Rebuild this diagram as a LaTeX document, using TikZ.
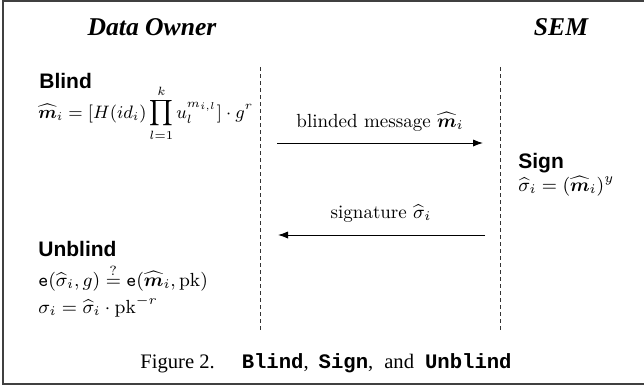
\RequirePackage{fix-cm}
\documentclass[tikz,border=0pt]{standalone}
\usepackage{amsmath,amssymb,bm}
\usepackage[no-math]{fontspec}
\usetikzlibrary{arrows.meta}
\newfontfamily\timesfam{Liberation Serif}
\newfontfamily\arialfam{Liberation Sans}
\newfontfamily\courfam{Liberation Mono}
\newcommand{\mhat}{\widehat{\bm{m}}}
\newcommand{\shat}{\widehat{\sigma}}
\newcommand{\algname}[1]{{\courfam\bfseries #1}}
\tikzset{
  party/.style={inner sep=0pt, anchor=base, font=\fontsize{12.8}{14}\timesfam\bfseries\itshape},
  phase/.style={inner sep=0pt, anchor=base west, font=\fontsize{10.5}{12}\arialfam\bfseries},
  formula/.style={inner sep=0pt, anchor=base west, font=\fontsize{9.5}{11}\selectfont},
  msglabel/.style={inner sep=0pt, anchor=base, font=\fontsize{9.5}{11}\selectfont},
  lifeline/.style={dash pattern=on 2pt off 1.5pt, line width=0.45pt, black!80},
  message/.style={line width=0.5pt, -{Latex[length=5pt,width=3.6pt]}},
  frameline/.style={line width=0.8pt, black!75},
  captionstyle/.style={inner sep=0pt, anchor=base, font=\fontsize{10.3}{12}\timesfam}
}
\begin{document}
\begin{tikzpicture}[x=0.5pt,y=-0.5pt]
  \useasboundingbox (0,0) rectangle (644,387);
  % open frame (top, left and bottom edges)
  \draw[frameline] (644,1) -- (3,1) -- (3,384) -- (644,384);

  % participants
  \node[party] (owner) at (152,35) {Data Owner};
  \node[party] (sem) at (561,35) {SEM};

  % lifelines
  \coordinate (ownerTop) at (260,67);
  \coordinate (ownerBot) at (260,333);
  \coordinate (semTop) at (500,67);
  \coordinate (semBot) at (500,333);
  \draw[lifeline] (ownerTop) -- (ownerBot);
  \draw[lifeline] (semTop) -- (semBot);

  % Blind step
  \node[phase] (blind) at (39,88) {Blind};
  \node[formula, font=\fontsize{9}{11}\selectfont] (blindeq) at (38,118)
    {$\displaystyle \mhat_i = [H(id_i)\prod_{l=1}^{k} u_l^{m_{i,l}}]\cdot g^r$};

  % blinded message
  \coordinate (m1from) at (277,143);
  \coordinate (m1to) at (483,143);
  \draw[message] (m1from) -- (m1to);
  \node[msglabel] (m1label) at (380,127) {blinded message $\mhat_i$};

  % Sign step
  \node[phase] (sign) at (518,168) {Sign};
  \node[formula] (signeq) at (518,191) {$\shat_i = (\mhat_i)^y$};

  % signature
  \coordinate (m2from) at (485,235);
  \coordinate (m2to) at (278,235);
  \draw[message] (m2from) -- (m2to);
  \node[msglabel] (m2label) at (381,218) {signature $\shat_i$};

  % Unblind step
  \node[phase] (unblind) at (38,256) {Unblind};
  \node[formula] (unblindeq1) at (38,286)
    {$\mathtt{e}(\shat_i, g) \overset{?}{=} \mathtt{e}(\mhat_i, \mathrm{pk})$};
  \node[formula] (unblindeq2) at (38,313)
    {$\sigma_i = \shat_i \cdot \mathrm{pk}^{-r}$};

  % caption
  \node[captionstyle] (caption) at (326,368)
    {Figure 2.\hspace{13.5pt}\algname{Blind},\hspace{5pt}\algname{Sign},\hspace{5.5pt}and\hspace{5.5pt}\algname{Unblind}};
\end{tikzpicture}
\end{document}
